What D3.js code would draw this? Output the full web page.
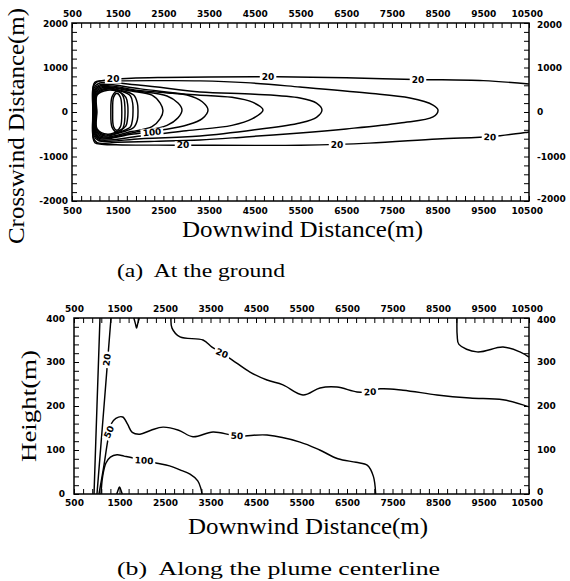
<!DOCTYPE html>
<html>
<head>
<meta charset="utf-8">
<script src="https://cdn.jsdelivr.net/npm/d3@7"></script>
<style>
  body { margin: 0; background: #fff; }
  .tick text { font-family: "DejaVu Sans", sans-serif; font-weight: bold; font-size: 9px; fill: #000; }
  .tick line { stroke: #000; stroke-width: 1; }
  .serif { font-family: "Liberation Serif", serif; fill: #000; white-space: pre; }
  .clabel { font-family: "DejaVu Sans", sans-serif; font-weight: bold; font-size: 9px; fill: #000; }
  .contour { fill: none; stroke: #000; stroke-width: 1.45; stroke-linejoin: round; }
</style>
</head>
<body>
<div id="chart"></div>
<script>
// tick labels
const xTickLabels = [500, 1500, 2500, 3500, 4500, 5500, 6500, 7500, 8500, 9500, 10500];
const groundYLabels = [-2000, -1000, 0, 1000, 2000];
const heightYLabels = [0, 100, 200, 300, 400];

// (a) at the ground: contour lines, [downwind m, crosswind m]
const ground20 = [[10500, 630], [9500, 705], [8000, 730], [6500, 770], [5000, 790], [3500, 785], [2500, 775], [1800, 760], [1400, 735], [1150, 705], [1000, 670], [960, 560], [955, 0], [960, -580], [1000, -690], [1150, -725], [1600, -740], [2800, -745], [4500, -750], [5500, -745], [7000, -700], [8500, -605], [9700, -550], [10500, -450]];
const ground30 = [[1050, 680], [1500, 700], [2500, 705], [3300, 700], [4300, 660], [5489, 562], [6955, 427], [7896, 315], [8400, 157], [8509, 45], [8400, -112], [7677, -247], [6500, -380], [5489, -472], [4300, -560], [3300, -629], [2300, -660], [1500, -680], [1050, -690], [965, -560], [960, 0], [965, 560]];
const ground40 = [[1080, 640], [2000, 600], [3300, 449], [4500, 400], [5489, 315], [5850, 200], [5970, 45], [5850, -120], [5489, -247], [4500, -400], [3300, -540], [2000, -600], [1080, -640], [975, -520], [970, 0], [975, 520]];
const ground50 = [[1100, 610], [2000, 520], [3000, 400], [4000, 330], [4450, 220], [4680, 45], [4450, -150], [4000, -300], [3000, -420], [2000, -540], [1100, -620], [990, -500], [985, 0], [990, 500]];
const ground70 = [[1130, 590], [2000, 480], [2700, 420], [3016, 382], [3350, 230], [3476, 45], [3350, -150], [3016, -292], [2500, -400], [1800, -500], [1130, -600], [1000, -480], [995, 0], [1000, 480]];
const ground100 = [[1160, 570], [1900, 470], [2579, 360], [2820, 200], [2907, 45], [2820, -130], [2579, -300], [1900, -450], [1160, -580], [1010, -460], [1005, 0], [1010, 460]];
const ground150 = [[1190, 550], [1800, 470], [2250, 380], [2430, 200], [2491, 30], [2430, -150], [2250, -330], [1800, -440], [1190, -560], [1020, -440], [1015, 0], [1020, 440]];
const ground200 = [[1220, 530], [1600, 480], [1850, 380], [1930, 200], [1944, 20], [1930, -180], [1850, -350], [1600, -450], [1220, -540], [1030, -420], [1025, 0], [1030, 420]];
const ground300 = [[1250, 510], [1600, 460], [1780, 360], [1830, 180], [1835, 20], [1825, -160], [1780, -330], [1600, -430], [1250, -520], [1040, -400], [1035, 0], [1040, 400]];
const ground500 = [[1280, 490], [1550, 440], [1680, 330], [1720, 150], [1725, 0], [1715, -150], [1680, -310], [1550, -410], [1280, -500], [1050, -380], [1045, 0], [1050, 380]];
const ground700 = [[1500, 470], [1620, 350], [1660, 0], [1620, -350], [1500, -460], [1380, -350], [1350, 0], [1380, 350]];
const ground1000 = [[1480, 420], [1560, 330], [1590, 0], [1560, -330], [1480, -410], [1410, -330], [1390, 0], [1410, 330]];
const groundLines = [
  [ground20, false], [ground30, true], [ground40, true], [ground50, true], [ground70, true],
  [ground100, true], [ground150, true], [ground200, true], [ground300, true], [ground500, true],
  [ground700, true], [ground1000, true]
];
// [x, y, text, angle]
const groundLabels = [[1400, 735, "20", 0], [4790, 786, "20", 0], [8071, 725, "20", 0], [2929, -745, "20", 0], [6300, -745, "20", 0], [9647, -565, "20", 3], [2250, -455, "100", -5]];

// (b) along the plume centerline: [downwind m, height m]
const height10 = [[940, 0], [1005, 200], [1071, 400]];
const height20a = [[1005, 0], [1160, 200], [1313, 400]];
const height20b = [[2632, 400], [2654, 377], [2830, 357], [3335, 350], [3533, 334], [3753, 320], [3973, 305], [4368, 277], [4742, 259], [5093, 248], [5533, 225], [5907, 241], [6280, 243], [6720, 232], [7005, 232], [7225, 239], [7731, 236], [8478, 225], [9203, 218], [9929, 214], [10500, 198]];
const height20c = [[8918, 400], [8922, 360], [8960, 340], [9357, 323], [9929, 334], [10300, 323], [10500, 311]];
const height50 = [[1049, 0], [1150, 60], [1240, 120], [1310, 158], [1420, 172], [1570, 175], [1680, 158], [1780, 140], [1950, 136], [2192, 145], [2456, 152], [2800, 145], [3115, 130], [3555, 141], [4082, 132], [4742, 134], [5467, 118], [5900, 100], [6300, 80], [6700, 72], [6950, 65], [7080, 40], [7130, 0]];
const height100 = [[1093, 0], [1130, 40], [1200, 70], [1300, 84], [1445, 89], [1600, 86], [1797, 82], [2038, 76], [2324, 70], [2600, 64], [2830, 55], [3050, 45], [3220, 30], [3290, 12], [3313, 0]];
const heightBumpLow = [[1440, 0], [1480, 12], [1500, 16], [1520, 12], [1560, 0]];
const heightBumpHigh = [[1815, 400], [1855, 385], [1875, 377], [1895, 385], [1935, 400]];
const heightLines = [
  [height10, false], [height20a, false], [height20b, false], [height20c, false],
  [height50, false], [height100, false], [heightBumpLow, false], [heightBumpHigh, false]
];
const heightLabels = [[1225, 305, "20", -82], [1269, 141, "50", -65], [2038, 76, "100", 3], [3753, 320, "20", 22], [7005, 232, "20", -3], [4082, 132, "50", 3]];

const svg = d3.select("#chart").append("svg")
  .attr("width", 570)
  .attr("height", 581);

function drawPanel(x, y, xMinor, yMinor, yLabels, lines, labels, opts) {
  let g = svg.append("g");
  let [bottom, top] = y.range();
  let [left, right] = x.range();

  // contours
  lines.forEach(([pts, closed]) => {
    let line = d3.line()
      .x(d => x(d[0]))
      .y(d => y(d[1]))
      .curve(closed ? d3.curveCatmullRomClosed.alpha(0.5) : d3.curveCatmullRom.alpha(0.5));
    g.append("path").attr("class", "contour").attr("d", line(pts));
  });

  // contour labels with a white gap behind
  labels.forEach(([lx, ly, txt, ang]) => {
    let lg = g.append("g").attr("transform", `translate(${x(lx)},${y(ly)}) rotate(${ang})`);
    let bg = lg.append("rect").attr("fill", "#fff");
    let t = lg.append("text").attr("class", "clabel")
      .attr("text-anchor", "middle").attr("dy", "0.35em").text(txt);
    let b = t.node().getBBox();
    bg.attr("x", b.x - 2).attr("y", b.y + 1).attr("width", b.width + 4).attr("height", b.height - 2);
  });

  // minor ticks, pointing inward
  g.append("g").attr("transform", `translate(0,${top})`)
    .call(d3.axisTop(x).tickValues(xMinor).tickSize(-5).tickFormat(""))
    .call(a => a.select(".domain").remove());
  g.append("g").attr("transform", `translate(0,${bottom})`)
    .call(d3.axisBottom(x).tickValues(xMinor).tickSize(-5).tickFormat(""))
    .call(a => a.select(".domain").remove());
  g.append("g").attr("transform", `translate(${left},0)`)
    .call(d3.axisLeft(y).tickValues(yMinor).tickSize(-5).tickFormat(""))
    .call(a => a.select(".domain").remove());
  g.append("g").attr("transform", `translate(${right},0)`)
    .call(d3.axisRight(y).tickValues(yMinor).tickSize(-5).tickFormat(""))
    .call(a => a.select(".domain").remove());

  let fmt = d => d3.format("d")(d).replace("−", "-");

  // tick labels
  g.append("g").attr("transform", `translate(0,${top})`)
    .call(d3.axisTop(x).tickValues(xTickLabels).tickSize(0).tickPadding(opts.topPad).tickFormat(fmt))
    .call(a => a.select(".domain").remove())
    .call(a => a.selectAll("text").filter(d => d === x.domain()[1]).attr("dx", "-0.25em"));
  g.append("g").attr("transform", `translate(0,${bottom})`)
    .call(d3.axisBottom(x).tickValues(xTickLabels).tickSize(0).tickPadding(opts.bottomPad).tickFormat(fmt))
    .call(a => a.select(".domain").remove())
    .call(a => a.selectAll("text").filter(d => d === x.domain()[1]).attr("dx", "-0.25em"));
  g.append("g").attr("transform", `translate(${left},0)`)
    .call(d3.axisLeft(y).tickValues(yLabels).tickSize(0).tickPadding(opts.leftPad).tickFormat(fmt))
    .call(a => a.select(".domain").remove())
    .call(a => a.selectAll("text").filter(d => d === y.domain()[1]).attr("dy", "0.42em"));
  g.append("g").attr("transform", `translate(${right},0)`)
    .call(d3.axisRight(y).tickValues(yLabels).tickSize(0).tickPadding(8).tickFormat(fmt))
    .call(a => a.select(".domain").remove())
    .call(a => a.selectAll("text").filter(d => d === y.domain()[1]).attr("dy", "0.45em"))
    .call(a => a.selectAll("text").filter(d => d === y.domain()[0]).attr("dy", "0.1em"));

  // frame
  g.append("rect")
    .attr("x", left).attr("y", top)
    .attr("width", right - left).attr("height", bottom - top)
    .attr("fill", "none").attr("stroke", "#000").attr("stroke-width", 1.5);
  return g;
}

// (a) At the ground
let groundX = d3.scaleLinear().domain([500, 10500]).range([72, 529]);
let groundY = d3.scaleLinear().domain([-2000, 2000]).range([201, 23]);
drawPanel(groundX, groundY, d3.range(500, 10501, 200), d3.range(-2000, 2001, 200),
  groundYLabels, groundLines, groundLabels,
  { topPad: 6, bottomPad: 7, leftPad: 4 });

// (b) Along the plume centerline
let heightX = d3.scaleLinear().domain([500, 10500]).range([74, 529]);
let heightY = d3.scaleLinear().domain([0, 400]).range([494, 318]);
drawPanel(heightX, heightY, d3.range(500, 10501, 200), d3.range(0, 401, 20),
  heightYLabels, heightLines, heightLabels,
  { topPad: 6, bottomPad: 6, leftPad: 9 });

// axis titles and captions
svg.append("text").attr("class", "serif")
  .attr("transform", "translate(24,126) rotate(-90)")
  .attr("text-anchor", "middle").attr("font-size", 23)
  .attr("textLength", 236).attr("lengthAdjust", "spacingAndGlyphs")
  .text("Crosswind Distance(m)");
svg.append("text").attr("class", "serif")
  .attr("x", 182).attr("y", 237).attr("font-size", 23)
  .attr("textLength", 241).attr("lengthAdjust", "spacingAndGlyphs")
  .text("Downwind Distance(m)");
svg.append("text").attr("class", "serif")
  .attr("x", 117).attr("y", 277).attr("font-size", 19)
  .attr("textLength", 168).attr("lengthAdjust", "spacingAndGlyphs")
  .text("(a)  At the ground");

svg.append("text").attr("class", "serif")
  .attr("transform", "translate(36,406) rotate(-90)")
  .attr("text-anchor", "middle").attr("font-size", 22)
  .attr("textLength", 112).attr("lengthAdjust", "spacingAndGlyphs")
  .text("Height(m)");
svg.append("text").attr("class", "serif")
  .attr("x", 188).attr("y", 534).attr("font-size", 23)
  .attr("textLength", 240).attr("lengthAdjust", "spacingAndGlyphs")
  .text("Downwind Distance(m)");
svg.append("text").attr("class", "serif")
  .attr("x", 117).attr("y", 575).attr("font-size", 19)
  .attr("textLength", 323).attr("lengthAdjust", "spacingAndGlyphs")
  .text("(b)  Along the plume centerline");
</script>
</body>
</html>
